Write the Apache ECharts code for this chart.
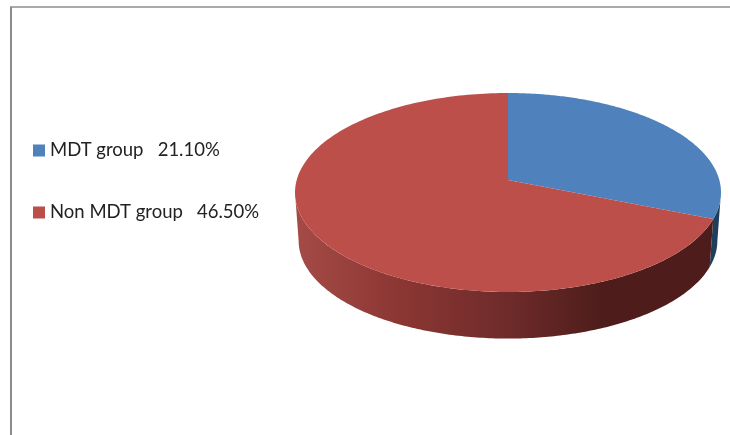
<!DOCTYPE html>
<html>
<head>
    <meta charset="utf-8" />
    <title>MDT group</title>
    <style>
        html, body { margin: 0; padding: 0; background: #fff; }
        #chart { width: 730px; height: 435px; }
    </style>
</head>
<body>
    <div id="chart"></div>
    <script src="https://cdn.jsdelivr.net/npm/echarts@6/dist/echarts.min.js"></script>
    <script type="text/javascript">
        var categories = ['MDT group', 'Non MDT group'];
        var values = [21.1, 46.5];
        var topColors = ['#4f81bd', '#bd4f4b'];

        var total = values[0] + values[1];
        var chart = echarts.init(document.getElementById('chart'));

        // perspective disc: apex of the slices, sizes, tilt
        var apexX = 508, apexY = 180;
        var radiusX = 211.3, radiusY = 97.9, tilt = 0.1256;
        var depth = 48.5, lowerScale = 0.983;

        // where the disc outline turns, the wall is only seen between these
        var wallFrom = Math.acos(-tilt);
        var wallTo = Math.PI * 2 - wallFrom;

        // angle is clockwise from 12 o'clock, on the flat disc
        function ringPoint(angle, lower) {
            var u = Math.sin(angle), v = Math.cos(angle);
            var d = 1 + tilt * v;
            var x = radiusX * u / d, y = -radiusY * v / d;
            if (lower) {
                x *= lowerScale;
                y = y * lowerScale + depth;
            }
            return [apexX + x, apexY + y];
        }

        function arc(from, to, lower) {
            var pts = [];
            for (var i = 0; i <= 200; i++) {
                pts.push(ringPoint(from + (to - from) * i / 200, lower));
            }
            return pts;
        }

        var wallFills = [
            '#1f3d5c',
            new echarts.graphic.LinearGradient(295, 0, 720, 0, [
                { offset: 0, color: '#a54b47' },
                { offset: 0.25, color: '#8b3633' },
                { offset: 0.5, color: '#6e2b2a' },
                { offset: 0.72, color: '#4e1d1b' },
                { offset: 1, color: '#4e1d1b' }
            ], true)
        ];

        function renderSlice(params, api) {
            var idx = params.seriesIndex;
            var before = idx === 0 ? 0 : values[0];
            var from = before / total * Math.PI * 2;
            var to = (before + api.value(0)) / total * Math.PI * 2;
            var top = arc(from, to, false);
            var a = Math.max(from, wallFrom), b = Math.min(to, wallTo);
            var wall = arc(a, b, false).concat(arc(b, a, true));
            return {
                type: 'group',
                children: [
                    { type: 'polygon', z2: 1, shape: { points: wall }, style: { fill: wallFills[idx] } },
                    { type: 'polygon', z2: 10, shape: { points: top.concat([[apexX, apexY]]) }, style: { fill: topColors[idx] } }
                ]
            };
        }

        var option = {
            animation: false,
            backgroundColor: '#fff',
            graphic: [
                { type: 'line', silent: true, shape: { x1: 11, y1: 435, x2: 11, y2: 7 }, style: { stroke: '#8c8c8c', lineWidth: 2 } },
                { type: 'line', silent: true, shape: { x1: 10, y1: 7, x2: 730, y2: 7 }, style: { stroke: '#8c8c8c', lineWidth: 1.5 } }
            ],
            legend: {
                orient: 'vertical',
                left: 28,
                top: 136,
                icon: 'rect',
                itemWidth: 12,
                itemHeight: 12,
                itemGap: 43,
                data: categories,
                formatter: function (name) {
                    return name + '   ' + values[categories.indexOf(name)].toFixed(2) + '%';
                },
                textStyle: { fontFamily: 'Lato', fontSize: 18.5, color: '#222' }
            },
            series: [
                { type: 'custom', name: categories[0], coordinateSystem: 'none', itemStyle: { color: topColors[0] }, renderItem: renderSlice, data: [values[0]] },
                { type: 'custom', name: categories[1], coordinateSystem: 'none', itemStyle: { color: topColors[1] }, renderItem: renderSlice, data: [values[1]] }
            ]
        };
        chart.setOption(option);
    </script>
</body>
</html>
